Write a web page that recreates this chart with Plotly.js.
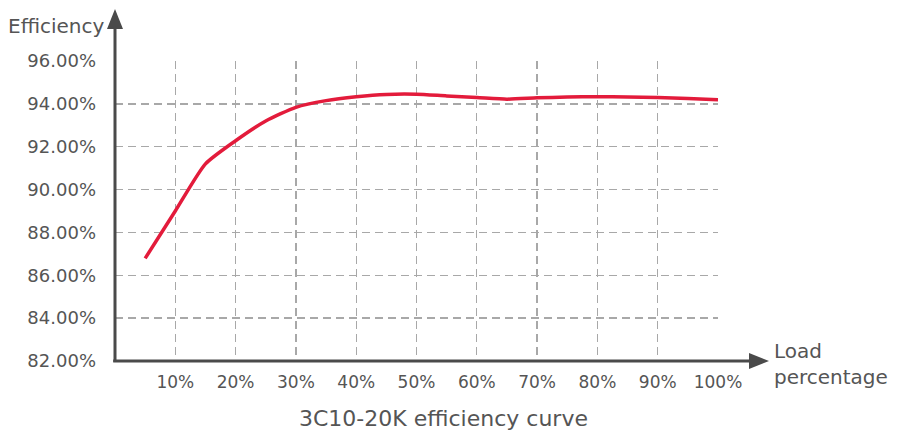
<!DOCTYPE html>
<html>
<head>
<meta charset="utf-8">
<script src="https://cdn.plot.ly/plotly-3.0.1.min.js"></script>
<style>html,body{margin:0;padding:0;background:#fff;}#chart{width:905px;height:432px;}</style>
</head>
<body>
<div id="chart"></div>
<script>
const loadPct = [5, 10, 15, 20, 25, 30, 35, 40, 45, 50, 55, 60, 65, 70, 75, 80, 85, 90, 95, 100];
const efficiency = [86.79, 89.0, 91.2, 92.28, 93.2, 93.84, 94.15, 94.33, 94.44, 94.45, 94.37, 94.3, 94.22, 94.28, 94.32, 94.33, 94.32, 94.3, 94.25, 94.19];
const xTickVals = [10, 20, 30, 40, 50, 60, 70, 80, 90, 100];
const xTickText = ['10%', '20%', '30%', '40%', '50%', '60%', '70%', '80%', '90%', '100%'];
const yTitle = 'Efficiency';
const xTitle = 'Load<br>percentage';
const chartTitle = '3C10-20K efficiency curve';

const FONT = 'DejaVu Sans, Open Sans, sans-serif';
const TXT = '#555555';
const AX = '#4a4a4a';

const trace = {
  x: loadPct, y: efficiency, type: 'scatter', mode: 'lines',
  line: {color: '#e31b3b', width: 3.5, shape: 'spline', smoothing: 0.6},
  hoverinfo: 'skip', showlegend: false
};

const layout = {
  width: 905, height: 432,
  margin: {l: 114.7, r: 187, t: 61, b: 71, pad: 0},
  paper_bgcolor: '#fff', plot_bgcolor: '#fff',
  font: {family: FONT, color: TXT, size: 16},
  showlegend: false,
  xaxis: {
    range: [0, 100], tickvals: xTickVals, ticktext: xTickText,
    showgrid: true, gridcolor: '#a8a8a8', gridwidth: 1.3, griddash: '8px,5px',
    zeroline: false, showline: false, ticks: '', ticklabelstandoff: 9,
    tickfont: {family: FONT, color: TXT, size: 17}, fixedrange: true
  },
  yaxis: {
    range: [82, 96], dtick: 2, tick0: 82, tickformat: '.2f', ticksuffix: '%',
    showgrid: true, gridcolor: '#a8a8a8', gridwidth: 1.3, griddash: '8px,5px',
    zeroline: false, showline: false, ticks: '', ticklabelstandoff: 18,
    tickfont: {family: FONT, color: TXT, size: 18}, fixedrange: true
  },
  shapes: [
    {type: 'line', xref: 'paper', yref: 'paper', x0: 0, x1: 0, y0: -0.003, y1: 1.113, line: {color: AX, width: 3}},
    {type: 'path', xref: 'paper', yref: 'paper', path: 'M -0.01326 1.107 L 0.01326 1.107 L 0 1.173 Z', fillcolor: AX, line: {color: AX, width: 0}},
    {type: 'line', xref: 'paper', yref: 'paper', x0: -0.003, x1: 1.053, y0: 0, y1: 0, line: {color: AX, width: 3}},
    {type: 'path', xref: 'paper', yref: 'paper', path: 'M 1.0514 -0.0267 L 1.0514 0.0267 L 1.0846 0 Z', fillcolor: AX, line: {color: AX, width: 0}}
  ],
  annotations: [
    {text: yTitle, xref: 'paper', yref: 'paper', x: -0.181, y: 1.117, xanchor: 'left', yanchor: 'middle', showarrow: false, font: {family: FONT, color: TXT, size: 20}},
    {text: xTitle, xref: 'paper', yref: 'paper', x: 1.089, y: -0.01, xanchor: 'left', yanchor: 'middle', align: 'left', showarrow: false, font: {family: FONT, color: TXT, size: 20}},
    {text: chartTitle, xref: 'paper', yref: 'paper', x: 0.544, y: -0.19, xanchor: 'center', yanchor: 'middle', showarrow: false, font: {family: FONT, color: TXT, size: 22}}
  ]
};

Plotly.newPlot('chart', [trace], layout, {displayModeBar: false, staticPlot: true});
</script>
</body>
</html>
